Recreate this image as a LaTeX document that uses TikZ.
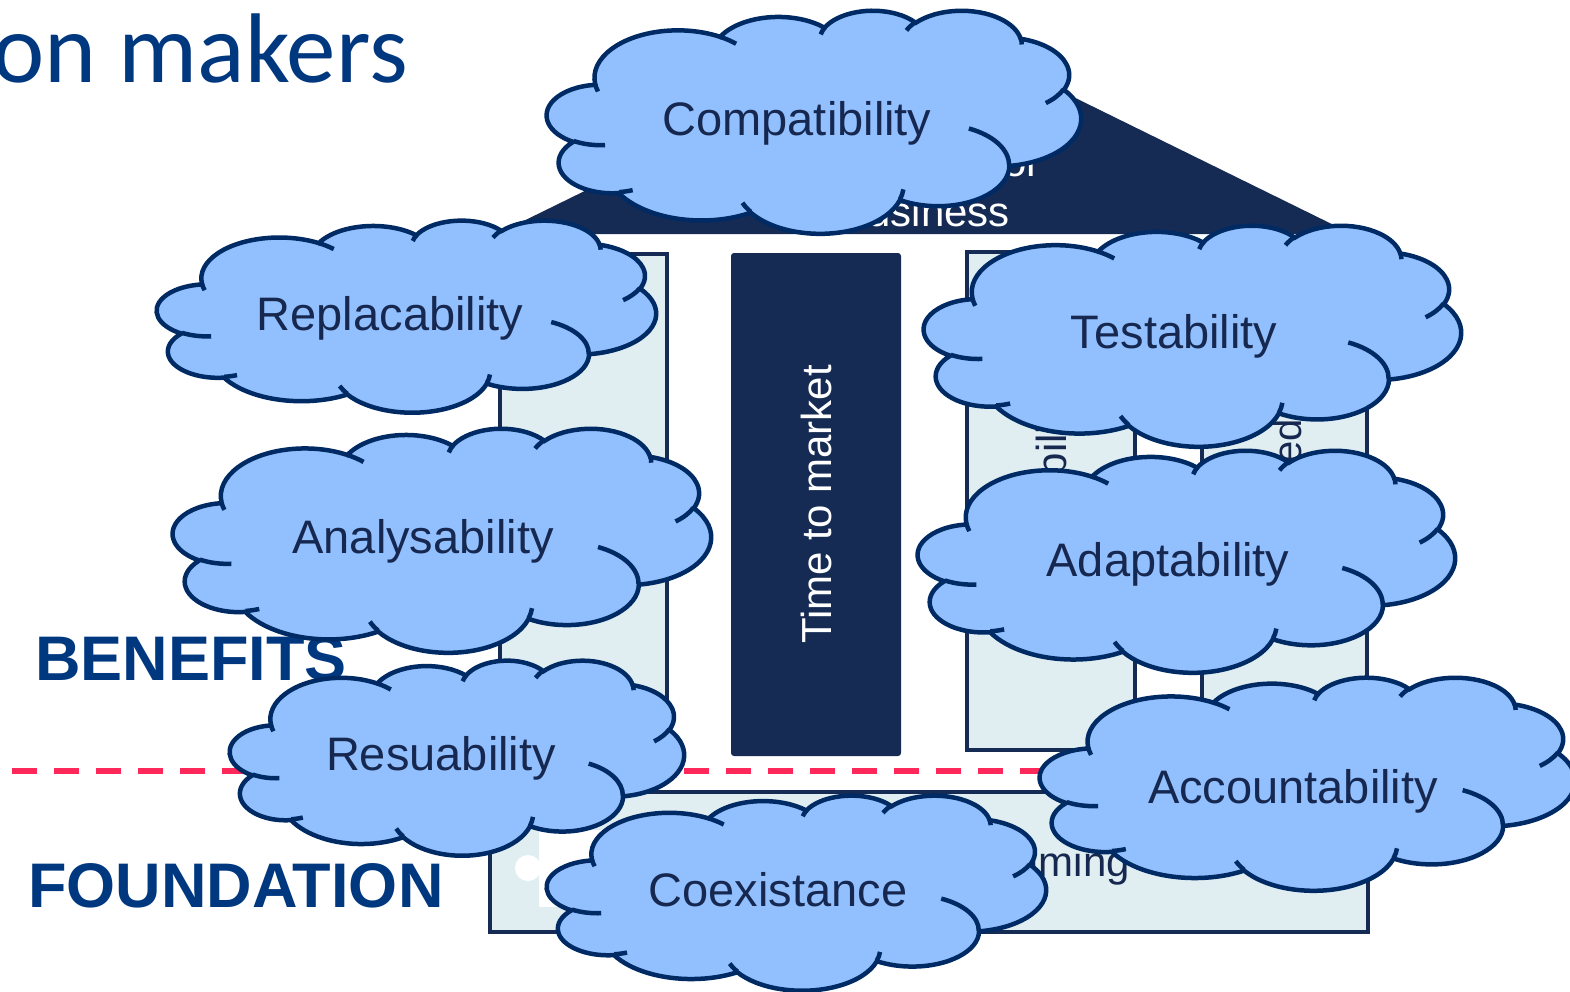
\documentclass[tikz,border=0pt]{standalone}
\usepackage{fontspec}
\setmainfont{Liberation Sans}
\newfontfamily\titlefont{Carlito}
\usepackage{tikz}
\usetikzlibrary{positioning}

\definecolor{cloudfill}{RGB}{146,192,255}
\definecolor{cloudline}{RGB}{0,42,100}
\definecolor{navy}{RGB}{21,43,84}
\definecolor{pillarfill}{RGB}{224,238,242}
\definecolor{headblue}{RGB}{0,56,128}
\definecolor{dashred}{RGB}{255,40,90}
\definecolor{wordblue}{RGB}{22,40,80}

\pgfmathdeclarefunction{pptt}{3}{%
  \begingroup
    \pgfmathparse{atan2(#1*sin(#3),#2*cos(#3))}%
    \pgfmathsmuggle\pgfmathresult
  \endgroup}
\pgfmathdeclarefunction{pptd}{4}{%
  \begingroup
    \pgfmathsetmacro\pptta{atan2(#1*sin(#3),#2*cos(#3))}%
    \pgfmathsetmacro\ppttb{atan2(#1*sin(#3+#4),#2*cos(#3+#4))}%
    \pgfmathsetmacro\ppttc{\ppttb-\pptta}%
    \pgfmathparse{\ppttc-360*round((\ppttc-#4)/360)}%
    \pgfmathsmuggle\pgfmathresult
  \endgroup}
\newcommand{\parc}[4]{arc[x radius=#1, y radius=#2, start angle={pptt(#1,#2,#3)}, delta angle={pptd(#1,#2,#3,#4)}]}

\newcommand{\pptcloud}[4]{%
  \begin{scope}[shift={(#1,#2)}, xscale=#3/43.2, yscale=#4/43.2]
    \path[cloudshape] (3.900,14.370) \parc{6.753}{9.190}{-190.487}{123.781}
      \parc{5.333}{7.267}{-144.102}{89.945} \parc{4.365}{5.945}{-145.808}{99.723}
      \parc{4.857}{6.595}{-130.986}{117.242} \parc{5.333}{7.273}{-78.709}{109.027}
      \parc{6.775}{9.220}{-46.267}{130.269} \parc{5.785}{7.867}{0.625}{114.033}
      \parc{6.752}{9.215}{22.452}{115.173} \parc{7.720}{10.543}{66.243}{75.711}
      \parc{4.360}{5.918}{-274.942}{146.736} \parc{4.345}{5.945}{-246.829}{152.519} -- cycle;
    \path[crease] (4.693,26.177) \parc{4.345}{5.945}{86.742}{26.430}
      (6.928,34.899) \parc{4.360}{5.918}{73.610}{11.447}
      (16.478,39.090) \parc{6.752}{9.215}{137.624}{14.081}
      (28.827,34.751) \parc{6.752}{9.215}{6.453}{15.998}
      (34.129,22.954) \parc{5.785}{7.867}{-70.292}{70.917}
      (41.798,15.354) \parc{5.333}{7.273}{30.318}{27.752}
      (38.324,5.426) \parc{4.857}{6.595}{-13.744}{14.859}
      (29.078,3.952) \parc{4.857}{6.595}{-149.181}{18.195}
      (22.141,4.720) \parc{4.365}{5.945}{-163.494}{17.686}
      (14.000,5.192) \parc{6.753}{9.190}{-66.707}{12.319}
      (4.127,15.789) \parc{6.753}{9.190}{157.654}{11.858};
  \end{scope}}

\tikzset{
    cloudshape/.style = {
        draw=cloudline,
        fill=cloudfill,
        line width=4.5pt
    },
    crease/.style = {
        draw=cloudline,
        line width=4.5pt
    },
    word/.style = {
        text=wordblue,
        inner sep=0pt,
        anchor=base,
        font=\fontsize{47}{56}\selectfont
    },
    pillar/.style = {
        draw=navy,
        fill=pillarfill,
        line width=4pt,
        anchor=north west,
        inner sep=0pt
    },
    heading/.style = {
        text=headblue,
        inner sep=0pt,
        anchor=base west,
        font=\fontsize{63}{70}\selectfont\bfseries
    },
    plain/.style = {
        inner sep=0pt,
        font=\fontsize{42}{50}\selectfont
    },
    dashline/.style = {
        draw=dashred,
        line width=6pt,
        dash pattern=on 25pt off 17pt
    },
}

\begin{document}
\begin{tikzpicture}[x=1pt, y=-1pt]
    \useasboundingbox (0,0) rectangle (1570,991);
    \clip (0,0) rectangle (1570,991);
    \fill[white] (0,0) rectangle (1570,991);

    \node[inner sep=0pt, anchor=base east, text=headblue, font=\titlefont\fontsize{99}{110}\selectfont] (title) at (408,82) {on makers};

    \path[fill=navy] (497,234) -- (925,24) -- (1352,234) -- cycle;
    \node[plain, text=white, anchor=base east] (roofa) at (1041,176) {Value for};
    \node[plain, text=white, anchor=base east] (roofb) at (1010,226) {business};

    \node[pillar, minimum width=167pt, minimum height=496pt] (leftpillar) at (498,252) {};
    \node[pillar, minimum width=168pt, minimum height=498pt] (midpillar) at (965,250) {};
    \node[pillar, minimum width=165pt, minimum height=498pt] (rightpillar) at (1200,250) {};
    \node[plain, text=wordblue, rotate=90, anchor=base east] (reliab) at (1066,392) {Reliability};
    \node[plain, text=wordblue, rotate=90, anchor=base east, font=\fontsize{40}{48}\selectfont] (speed) at (1301,419) {Speed};

    \node[fill=navy, rounded corners=3pt, rotate=90, minimum width=503pt, minimum height=170pt,
          text=white, font=\fontsize{42}{50}\selectfont] (market) at (816,504.5) {Time to market};

    \node[pillar, minimum width=878pt, minimum height=140pt] (foundbox) at (488,790) {};
    \fill[white] (539,830) rectangle (640,907);
    \fill[white] (528,868) circle (13);
    \node[plain, text=wordblue, anchor=base east] (program) at (1130,876) {Programming};

    \coordinate (dashl) at (12,771);
    \coordinate (dashr) at (1565,771);
    \path[dashline] (dashl) -- (dashr);

    \node[heading] (benefits) at (35,680) {BENEFITS};
    \node[heading] (foundation) at (28,907) {FOUNDATION};

    \pptcloud{547}{10}{534}{223}
    \node[word] (compat) at (797,135) {Compatibility};
    \pptcloud{157}{220}{499}{192}
    \node[word] (replace) at (390,330) {Replacability};
    \pptcloud{173}{428}{538}{224}
    \node[word] (analyse) at (423,553) {Analysability};
    \pptcloud{230}{660}{454}{195}
    \node[word] (reuse) at (441,770) {Resuability};
    \pptcloud{547}{795}{499}{195}
    \node[word] (coexist) at (778,906) {Coexistance};
    \pptcloud{924}{225}{537}{221}
    \node[word] (test) at (1174,348) {Testability};
    \pptcloud{918}{450}{537}{222}
    \node[word] (adapt) at (1168,576) {Adaptability};
    \pptcloud{1040}{677}{535}{213}
    \node[word] (account) at (1293,803) {Accountability};
\end{tikzpicture}
\end{document}
